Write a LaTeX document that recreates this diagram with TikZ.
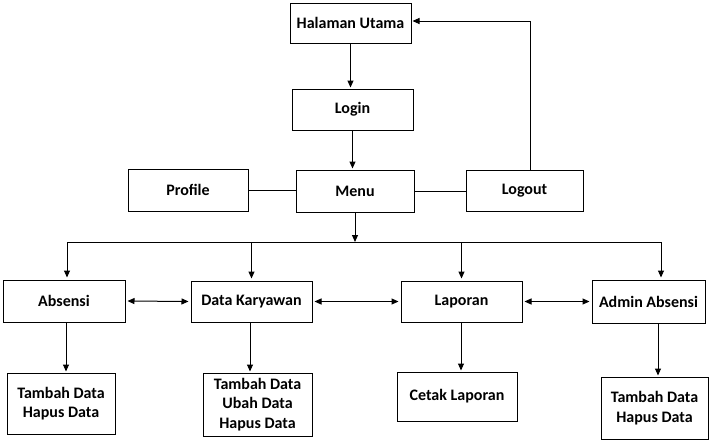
\documentclass[tikz,border=0pt]{standalone}
\usepackage{fontspec}
\setmainfont{Carlito}
\usetikzlibrary{arrows.meta, positioning}

\begin{document}
\begin{tikzpicture}[x=1pt, y=-1pt,
  box/.style={draw, line width=1pt, font=\bfseries\fontsize{16}{19.5}\selectfont, align=center, inner sep=0pt},
  arr/.style={-{Triangle[length=7pt, width=6pt]}, line width=1pt, shorten >=1pt},
  dblarr/.style={{Triangle[length=7pt, width=6pt]}-{Triangle[length=7pt, width=6pt]}, line width=1pt, shorten <=2pt, shorten >=2pt},
  link/.style={line width=1pt}]
  \fill[white] (0,0) rectangle (717,442);
  \useasboundingbox (0,0) rectangle (717,442);
  % top row
  \node[box, minimum width=121pt, minimum height=40pt] (halaman) at (350.5,23) {Halaman Utama};
  \node[box, minimum width=121pt, minimum height=41pt] (login) at (352.5,109.5) {Login};
  \node[box, minimum width=118pt, minimum height=42pt] (menu) at (355,191) {Menu};
  \node[box, minimum width=120pt, minimum height=42pt] (profile) at (188,190) {Profile};
  \node[box, minimum width=117pt, minimum height=41pt] (logout) at (524.5,190.5) {Logout};
  % modules
  \node[box, minimum width=122pt, minimum height=42pt] (absensi) at (64,301) {Absensi};
  \node[box, minimum width=121pt, minimum height=41pt] (karyawan) at (251.5,301.5) {Data Karyawan};
  \node[box, minimum width=121pt, minimum height=41pt] (laporan) at (461.5,301.5) {Laporan};
  \node[box, minimum width=113pt, minimum height=43pt] (admin) at (648.5,301.5) {Admin Absensi};
  % sub menus
  \node[box, minimum width=108pt, minimum height=61pt] (absub) at (61,403.5) {Tambah Data\\Hapus Data};
  \node[box, minimum width=109pt, minimum height=63pt] (karsub) at (257.5,404.5) {Tambah Data\\Ubah Data\\Hapus Data};
  \node[box, minimum width=120pt, minimum height=49pt] (lapsub) at (457,396.5) {Cetak Laporan};
  \node[box, minimum width=107pt, minimum height=62pt] (admsub) at (654.5,408) {Tambah Data\\Hapus Data};
  % bus
  \coordinate (busL) at (67,242);
  \coordinate (busR) at (661,242);
  % connectors
  \draw[arr] (halaman.south) -- (halaman.south |- login.north);
  \draw[arr] (login.south) -- (login.south |- menu.north);
  \draw[link] (profile.east) -- (menu.west |- profile.east);
  \draw[link] (menu.east) -- (logout.west |- menu.east);
  \draw[arr] ([xshift=5.5pt]logout.north) |- ([yshift=2pt]halaman.east);
  \draw[arr, shorten >=0pt] (menu.south) -- (menu.south |- busL);
  \draw[link] (busL) -- (busR);
  \draw[arr, shorten >=2pt] (busL) -- (busL |- absensi.north);
  \draw[arr, shorten >=2pt] (karyawan.north |- busL) -- (karyawan.north);
  \draw[arr, shorten >=2pt] (laporan.north |- busL) -- (laporan.north);
  \draw[arr, shorten >=2pt] (busR) -- (busR |- admin.north);
  \draw[dblarr] (absensi.east) -- (karyawan.west);
  \draw[dblarr] (karyawan.east) -- (laporan.west);
  \draw[dblarr] (laporan.east) -- (admin.west);
  \draw[arr] ([xshift=2pt]absensi.south) -- ([xshift=2pt]absensi.south |- absub.north);
  \draw[arr] ([xshift=-1.5pt]karyawan.south) -- ([xshift=-1.5pt]karyawan.south |- karsub.north);
  \draw[arr] ([xshift=-0.5pt]laporan.south) -- ([xshift=-0.5pt]laporan.south |- lapsub.north);
  \draw[arr] ([xshift=9.5pt]admin.south) -- ([xshift=9.5pt]admin.south |- admsub.north);
\end{tikzpicture}
\end{document}
